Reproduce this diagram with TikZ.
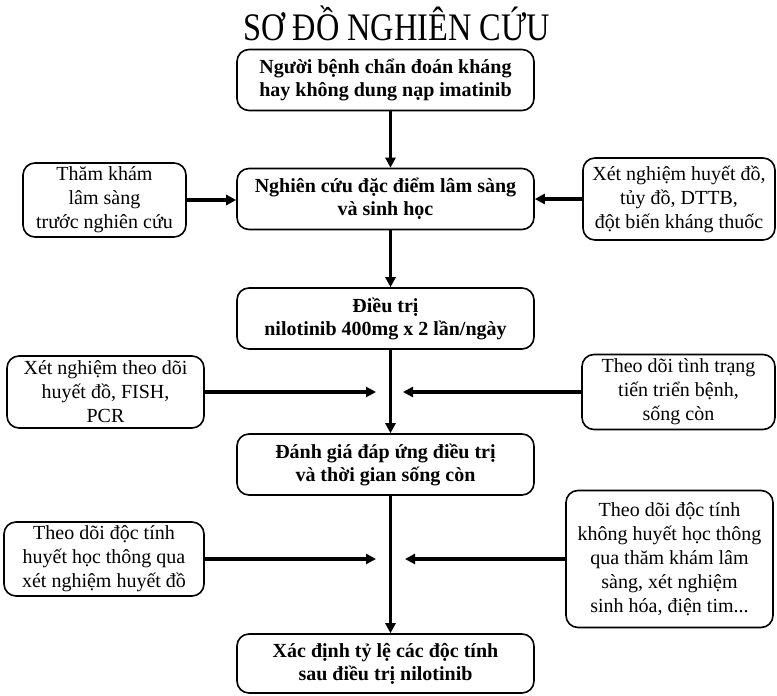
\documentclass[tikz,border=0pt]{standalone}
\usepackage{fontspec}
\setmainfont{Liberation Serif}
\usepackage{graphicx}
\usetikzlibrary{arrows.meta}
\begin{document}
\begin{tikzpicture}[x=1pt,y=-1pt,
  mainbox/.style={draw, line width=1.6pt, rounded corners=12pt, minimum width=297pt, minimum height=61pt, align=center, inner sep=0pt, font=\fontsize{20}{23}\selectfont\bfseries},
  sidebox/.style={draw, line width=1.6pt, rounded corners=12pt, align=center, inner sep=0pt, font=\fontsize{20}{24}\selectfont},
  conn/.style={line width=3.2pt, -{Triangle[length=10pt,width=10pt]}}]
\useasboundingbox (0,0) rectangle (777,696);
% title
\node[anchor=base] (title) at (396.5,40) {\fontsize{39}{39}\selectfont\scalebox{0.83}[1]{SƠ ĐỒ NGHIÊN CỨU}};
% main column
\node[mainbox] (b1) at (385.5,80) {Người bệnh chẩn đoán kháng\\hay không dung nạp imatinib};
\node[mainbox] (b2) at (385.5,199) {Nghiên cứu đặc điểm lâm sàng\\và sinh học};
\node[mainbox] (b3) at (385.5,318.5) {Điều trị\\nilotinib 400mg x 2 lần/ngày};
\node[mainbox] (b4) at (385.5,464.5) {Đánh giá đáp ứng điều trị\\và thời gian sống còn};
\node[mainbox, minimum height=59pt] (b5) at (385.5,663.5) {Xác định tỷ lệ các độc tính\\sau điều trị nilotinib};
% side boxes
\node[sidebox, minimum width=163pt, minimum height=74pt] (L1) at (104.5,200) {Thăm khám\\lâm sàng\\trước nghiên cứu};
\node[sidebox, minimum width=192pt, minimum height=82pt] (R1) at (679,199) {Xét nghiệm huyết đồ,\\tủy đồ, DTTB,\\đột biến kháng thuốc};
\node[sidebox, minimum width=197pt, minimum height=72pt] (L2) at (105.5,392) {Xét nghiệm theo dõi\\huyết đồ, FISH,\\PCR};
\node[sidebox, minimum width=193pt, minimum height=75pt] (R2) at (678.5,392) {Theo dõi tình trạng\\tiến triển bệnh,\\sống còn};
\node[sidebox, minimum width=200pt, minimum height=74pt] (L3) at (104,559) {Theo dõi độc tính\\huyết học thông qua\\xét nghiệm huyết đồ};
\node[sidebox, minimum width=207pt, minimum height=137pt] (R3) at (669.5,559) {Theo dõi độc tính\\không huyết học thông\\qua thăm khám lâm\\sàng, xét nghiệm\\sinh hóa, điện tim...};
% junction points
\coordinate (j1L) at (376,392);
\coordinate (j1R) at (403,392);
\coordinate (j2L) at (376,559);
\coordinate (j2R) at (405,559);
% vertical connectors
\draw[conn] ([xshift=5pt]b1.south) -- ([xshift=5pt]b2.north);
\draw[conn] ([xshift=5pt]b2.south) -- ([xshift=5pt]b3.north);
\draw[conn] ([xshift=5pt]b3.south) -- ([xshift=5pt]b4.north);
\draw[conn] ([xshift=5pt]b4.south) -- ([xshift=5pt]b5.north);
% horizontal connectors
\draw[conn] (L1.east) -- (L1.east -| b2.west);
\draw[conn] (R1.west) -- (R1.west -| b2.east);
\draw[conn] (L2.east) -- (j1L);
\draw[conn] (R2.west) -- (j1R);
\draw[conn] (L3.east) -- (j2L);
\draw[conn] (R3.west) -- (j2R);
\end{tikzpicture}
\end{document}
